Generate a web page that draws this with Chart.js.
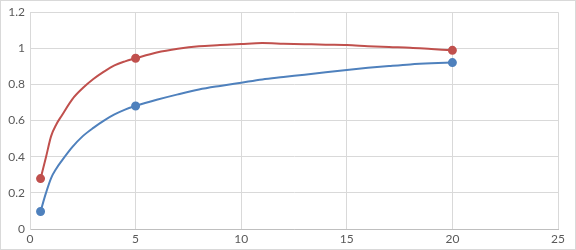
<!DOCTYPE html>
<html>
<head>
<meta charset="utf-8">
<script src="https://cdn.jsdelivr.net/npm/chart.js@4/dist/chart.umd.min.js"></script>
<style>
  html, body { margin: 0; padding: 0; background: #fff; }
  #wrap { width: 576px; height: 250px; position: relative; }
</style>
</head>
<body>
<div id="wrap"><canvas id="myChart"></canvas></div>
<script>
// sample positions along the curves (x)
var xValues = [0.5, 0.75, 1, 1.25, 1.5, 2, 2.5, 3, 3.5, 4, 4.5, 5, 6, 7, 8, 9, 10, 11, 12, 13, 14, 15, 16, 17, 18, 19, 20];
// red curve
var redValues = [0.279, 0.394, 0.514, 0.58, 0.627, 0.718, 0.78, 0.83, 0.871, 0.906, 0.928, 0.945, 0.977, 0.998, 1.012, 1.018, 1.024, 1.029, 1.026, 1.023, 1.02, 1.018, 1.012, 1.007, 1.003, 0.996, 0.989];
// blue curve
var blueValues = [0.097, 0.197, 0.282, 0.335, 0.377, 0.453, 0.514, 0.56, 0.6, 0.634, 0.661, 0.681, 0.715, 0.745, 0.772, 0.792, 0.81, 0.828, 0.841, 0.854, 0.867, 0.88, 0.892, 0.902, 0.911, 0.917, 0.921];
// x values that carry a marker
var markedX = [0.5, 5, 20];
var xTicks = [0, 5, 10, 15, 20, 25];
var yTicks = [0, 0.2, 0.4, 0.6, 0.8, 1, 1.2];

function toPoints(ys) {
  return xValues.map(function (x, i) { return { x: x, y: ys[i] }; });
}

function markerRadius(ctx) {
  return markedX.indexOf(ctx.raw.x) >= 0 ? 3.5 : 0;
}

var frame = {
  id: 'frame',
  beforeDraw: function (chart) {
    var c = chart.ctx;
    c.save();
    c.fillStyle = '#ffffff';
    c.fillRect(0, 0, chart.width, chart.height);
    c.strokeStyle = '#d9d9d9';
    c.lineWidth = 1;
    c.strokeRect(0.5, 0.5, chart.width - 1, chart.height - 1);
    c.restore();
  }
};

var ctx = document.getElementById('myChart').getContext('2d');
var myChart = new Chart(ctx, {
  type: 'scatter',
  data: {
    datasets: [
      {
        label: 'red',
        data: toPoints(redValues),
        showLine: true,
        borderColor: '#C0504D',
        backgroundColor: '#C0504D',
        borderWidth: 2,
        cubicInterpolationMode: 'monotone',
        pointRadius: markerRadius,
        pointHoverRadius: markerRadius
      }, {
        label: 'blue',
        data: toPoints(blueValues),
        showLine: true,
        borderColor: '#4F81BD',
        backgroundColor: '#4F81BD',
        borderWidth: 2,
        cubicInterpolationMode: 'monotone',
        pointRadius: markerRadius,
        pointHoverRadius: markerRadius
      }
    ]
  },
  options: {
    responsive: true,
    maintainAspectRatio: false,
    animation: false,
    layout: { padding: { left: 0, right: 18, top: 11, bottom: 0 } },
    plugins: {
      legend: { display: false },
      tooltip: { enabled: false }
    },
    scales: {
      x: {
        type: 'linear',
        min: 0,
        max: 25,
        afterBuildTicks: function (scale) {
          scale.ticks = xTicks.map(function (v) { return { value: v }; });
        },
        afterFit: function (scale) { scale.height = 21; },
        grid: { color: '#d9d9d9', drawTicks: false },
        border: { color: '#bfbfbf' },
        ticks: {
          color: '#595959',
          padding: 3,
          font: { family: 'Lato', size: 12 }
        }
      },
      y: {
        min: 0,
        max: 1.2,
        afterBuildTicks: function (scale) {
          scale.ticks = yTicks.map(function (v) { return { value: v }; });
        },
        afterFit: function (scale) { scale.width = 30; },
        grid: { color: '#d9d9d9', drawTicks: false },
        border: { color: '#d9d9d9' },
        ticks: {
          color: '#595959',
          padding: 5,
          font: { family: 'Lato', size: 12 },
          callback: function (v) { return String(Number(v.toFixed(1))); }
        }
      }
    }
  },
  plugins: [frame]
});
</script>
</body>
</html>
